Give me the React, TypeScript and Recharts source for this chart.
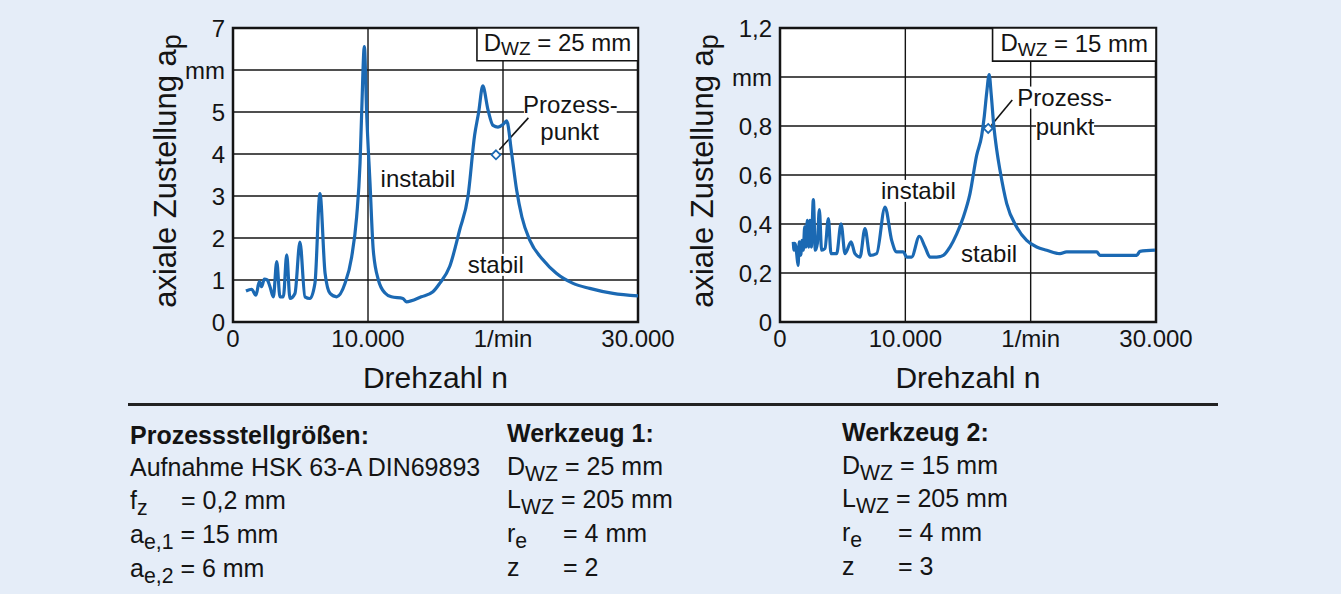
import React from "react";
import { LineChart, Line, XAxis, YAxis, CartesianGrid, ReferenceArea, ReferenceDot, ReferenceLine } from "recharts";

const FONT = '"Liberation Sans", Arial, Helvetica, sans-serif';
const BLUE = "#1b69b3";
const BG = "#e5edf8";
const INK = "#141414";

// Werkzeug 1, D_WZ = 25 mm
const rpm1 = [960, 1380, 1700, 1950, 2120, 2320, 2540, 2740, 2990, 3240, 3480, 3730, 3980, 4220, 4590, 4960, 5330, 5700, 6070, 6440, 6820, 7190, 7680, 8300, 8790, 9160, 9410, 9530, 9730, 9900, 10150, 10390, 10770, 11260, 11730, 12590, 12840, 13950, 14810, 15310, 16050, 16790, 17410, 17900, 18200, 18500, 18890, 19260, 19630, 20000, 20270, 20640, 21010, 21400, 21980, 22960, 23950, 25190, 26420, 28150, 30000];
const ap1 = [0.74, 0.78, 0.64, 0.96, 0.84, 1.02, 1.0, 0.84, 0.6, 1.44, 0.6, 0.6, 1.6, 0.56, 0.68, 1.9, 0.6, 0.56, 0.92, 3.06, 1.16, 0.68, 0.6, 0.92, 1.55, 2.51, 3.78, 4.97, 6.56, 4.97, 3.3, 1.71, 1.0, 0.69, 0.6, 0.56, 0.48, 0.6, 0.72, 0.92, 1.32, 2.19, 3.0, 4.45, 5.0, 5.62, 5.05, 4.68, 4.64, 4.7, 4.79, 4.02, 3.14, 2.5, 1.95, 1.48, 1.16, 0.92, 0.8, 0.68, 0.62];

// Werkzeug 2, D_WZ = 15 mm
const rpm2 = [1060, 1120, 1220, 1330, 1440, 1540, 1650, 1760, 1860, 1970, 2070, 2180, 2290, 2390, 2500, 2660, 2820, 2980, 3140, 3320, 3590, 3860, 4070, 4520, 4870, 5190, 5670, 5980, 6380, 6780, 7180, 7710, 8380, 8910, 9310, 9840, 10110, 10500, 11120, 11570, 11970, 12500, 13030, 13560, 14100, 14630, 15160, 15690, 16090, 16300, 16500, 16690, 16850, 17060, 17300, 17550, 18090, 18880, 19680, 20480, 21280, 22340, 22870, 25270, 25530, 28460, 28720, 29920];
const ap2 = [0.327, 0.293, 0.32, 0.279, 0.231, 0.327, 0.272, 0.333, 0.293, 0.388, 0.306, 0.415, 0.306, 0.415, 0.306, 0.5, 0.293, 0.32, 0.459, 0.293, 0.3, 0.422, 0.279, 0.279, 0.401, 0.279, 0.327, 0.279, 0.265, 0.381, 0.272, 0.279, 0.469, 0.333, 0.286, 0.286, 0.265, 0.265, 0.35, 0.306, 0.265, 0.265, 0.272, 0.306, 0.36, 0.429, 0.524, 0.68, 0.76, 0.84, 0.94, 1.01, 0.93, 0.8, 0.7, 0.62, 0.483, 0.388, 0.333, 0.306, 0.293, 0.279, 0.286, 0.286, 0.272, 0.272, 0.288, 0.293];

const xTicks = [0, 10000, 20000, 30000];
const xTickLabels = ["0", "10.000", "1/min", "30.000"];
const yTicks1 = [0, 1, 2, 3, 4, 5, 6, 7];
const yTickLabels1 = ["0", "1", "2", "3", "4", "5", "mm", "7"];
const yTicks2 = [0, 0.2, 0.4, 0.6, 0.8, 1, 1.2];
const yTickLabels2 = ["0", "0,2", "0,4", "0,6", "0,8", "mm", "1,2"];

const yTitle = (cx: number) => (props: any) => {
  const vb = props.viewBox;
  const cy = vb.y + vb.height / 2 - 4;
  return (
    <text x={cx} y={cy} transform={`rotate(-90 ${cx} ${cy})`} textAnchor="middle" dominantBaseline="central"
      fontSize={31} fontFamily={FONT} fill={INK}>
      axiale Zustellung a<tspan dy={7} fontSize={27}>p</tspan>
    </text>
  );
};

const xTitle = (props: any) => {
  const vb = props.viewBox;
  return (
    <text x={vb.x + vb.width / 2} y={vb.y + 55} textAnchor="middle" dominantBaseline="central"
      fontSize={30} fontFamily={FONT} fill={INK}>
      Drehzahl n
    </text>
  );
};

const boxLabel = (value: string) => (props: any) => {
  const vb = props.viewBox;
  return (
    <text x={vb.x + vb.width / 2} y={vb.y + vb.height / 2 - 2} textAnchor="middle" dominantBaseline="central"
      fontSize={24} fontFamily={FONT} fill={INK}>
      D<tspan dy={6} fontSize={19}>WZ</tspan><tspan dy={-6}>{` = ${value} mm`}</tspan>
    </text>
  );
};

const note = (text: string) => (props: any) => {
  const vb = props.viewBox;
  const cx = vb.x + vb.width / 2;
  const cy = vb.y + vb.height / 2;
  const w = text.length * 11.6;
  return (
    <g>
      <rect x={cx - w / 2} y={cy - 11} width={w} height={22} fill="#fff" />
      <text x={cx} y={cy} textAnchor="middle" dominantBaseline="central" fontSize={24} fontFamily={FONT} fill={INK}>
        {text}
      </text>
    </g>
  );
};

const diamond = (props: any) => {
  const { cx, cy } = props;
  const s = 4.5;
  return (
    <polygon points={`${cx},${cy - s} ${cx + s},${cy} ${cx},${cy + s} ${cx - s},${cy}`}
      fill="#fff" stroke={BLUE} strokeWidth={1.8} />
  );
};

type Note = { text: string; x: number; y: number };

type PanelProps = {
  left: number;
  width: number;
  axisWidth: number;
  plotWidth: number;
  titleX: number;
  rpm: number[];
  ap: number[];
  yTicks: number[];
  yLabels: string[];
  yMax: number;
  boxFrom: number;
  boxBottom: number;
  boxValue: string;
  point: [number, number];
  pointer: [number, number, number, number];
  notes: Note[];
};

function Panel(p: PanelProps) {
  const data = p.rpm.map((r, i) => ({ rpm: r, ap: p.ap[i] }));
  const tick = { fill: INK, fontSize: 24, fontFamily: FONT };
  const extra: any = { zIndex: 2500 };
  const extraDot: any = { zIndex: 2600 };
  return (
    <div style={{ position: "absolute", left: p.left, top: 0 }}>
      <LineChart width={p.width} height={400} data={data}
        margin={{ top: 28, right: p.width - p.axisWidth - p.plotWidth, left: 0, bottom: 0 }}>
        <CartesianGrid stroke={INK} strokeWidth={1.4} fill="#fff" fillOpacity={1} />
        <XAxis type="number" dataKey="rpm" domain={[0, 30000]} ticks={xTicks} interval={0}
          tickFormatter={(v: number) => xTickLabels[xTicks.indexOf(v)]}
          axisLine={false} tickLine={false} height={78} tick={tick} label={xTitle} />
        <YAxis type="number" domain={[0, p.yMax]} ticks={p.yTicks} interval={0}
          tickFormatter={(v: number) => p.yLabels[p.yTicks.indexOf(v)]}
          axisLine={false} tickLine={false} width={p.axisWidth} tick={tick} label={yTitle(p.titleX)} />
        <ReferenceArea x1={0} x2={30000} y1={0} y2={p.yMax} fill="none" stroke={INK} strokeWidth={2.5} />
        <ReferenceArea x1={p.boxFrom} x2={30000} y1={p.boxBottom} y2={p.yMax} fill="#fff" fillOpacity={1}
          stroke={INK} strokeWidth={1.6} label={boxLabel(p.boxValue)} />
        {p.notes.map((n) => (
          <ReferenceDot key={n.text} x={n.x} y={n.y} r={1} fill="none" stroke="none" label={note(n.text)} />
        ))}
        <ReferenceLine segment={[{ x: p.pointer[0], y: p.pointer[1] }, { x: p.pointer[2], y: p.pointer[3] }]}
          stroke={INK} strokeWidth={1.6} {...extra} />
        <Line type="monotone" dataKey="ap" stroke={BLUE} strokeWidth={3.2} dot={false} isAnimationActive={false} {...extra} />
        <ReferenceDot x={p.point[0]} y={p.point[1]} r={4} shape={diamond} {...extraDot} />
      </LineChart>
    </div>
  );
}

const Sub = ({ children }: { children: React.ReactNode }) => (
  <span style={{ fontSize: "0.85em", position: "relative", top: "0.3em" }}>{children}</span>
);

const Row = ({ x, y, children, bold }: { x: number; y: number; children: React.ReactNode; bold?: boolean }) => (
  <div style={{ position: "absolute", left: x, top: y - 15, lineHeight: "30px", fontSize: 25, fontWeight: bold ? 700 : 400, whiteSpace: "nowrap" }}>
    {children}
  </div>
);

export default function App() {
  return (
    <div style={{ position: "absolute", left: 0, top: 0, width: 1341, height: 594, background: BG, fontFamily: FONT, color: INK, overflow: "hidden" }}>
      <Panel left={0} width={700} axisWidth={233} plotWidth={405} titleX={165} rpm={rpm1} ap={ap1}
        yTicks={yTicks1} yLabels={yTickLabels1} yMax={7}
        boxFrom={18070} boxBottom={6.22} boxValue="25"
        point={[19480, 3.98]} pointer={[19730, 4.1, 21880, 4.86]}
        notes={[
          { text: "Prozess-", x: 24990, y: 5.17 },
          { text: "punkt", x: 24940, y: 4.53 },
          { text: "instabil", x: 13700, y: 3.42 },
          { text: "stabil", x: 19460, y: 1.36 },
        ]} />
      <Panel left={680} width={520} axisWidth={100} plotWidth={376} titleX={22} rpm={rpm2} ap={ap2}
        yTicks={yTicks2} yLabels={yTickLabels2} yMax={1.2}
        boxFrom={16960} boxBottom={1.065} boxValue="15"
        point={[16610, 0.79]} pointer={[16880, 0.804, 18530, 0.906]}
        notes={[
          { text: "Prozess-", x: 22710, y: 0.916 },
          { text: "punkt", x: 22740, y: 0.799 },
          { text: "instabil", x: 11040, y: 0.535 },
          { text: "stabil", x: 16680, y: 0.279 },
        ]} />

      <div style={{ position: "absolute", left: 128, top: 403, width: 1090, height: 3, background: "#222" }} />

      <Row x={130} y={435} bold>Prozessstellgrößen:</Row>
      <Row x={130} y={467}>Aufnahme HSK 63-A DIN69893</Row>
      <Row x={130} y={500}>f<Sub>z</Sub></Row>
      <Row x={181} y={500}>= 0,2 mm</Row>
      <Row x={130} y={534}>a<Sub>e,1</Sub> = 15 mm</Row>
      <Row x={130} y={568}>a<Sub>e,2</Sub> = 6 mm</Row>

      <Row x={507} y={433} bold>Werkzeug 1:</Row>
      <Row x={507} y={466}>D<Sub>WZ</Sub> = 25 mm</Row>
      <Row x={507} y={499}>L<Sub>WZ</Sub> = 205 mm</Row>
      <Row x={507} y={533}>r<Sub>e</Sub></Row>
      <Row x={563} y={533}>= 4 mm</Row>
      <Row x={507} y={567}>z</Row>
      <Row x={563} y={567}>= 2</Row>

      <Row x={842} y={432} bold>Werkzeug 2:</Row>
      <Row x={842} y={465}>D<Sub>WZ</Sub> = 15 mm</Row>
      <Row x={842} y={498}>L<Sub>WZ</Sub> = 205 mm</Row>
      <Row x={842} y={532}>r<Sub>e</Sub></Row>
      <Row x={898} y={532}>= 4 mm</Row>
      <Row x={842} y={566}>z</Row>
      <Row x={898} y={566}>= 3</Row>
    </div>
  );
}
